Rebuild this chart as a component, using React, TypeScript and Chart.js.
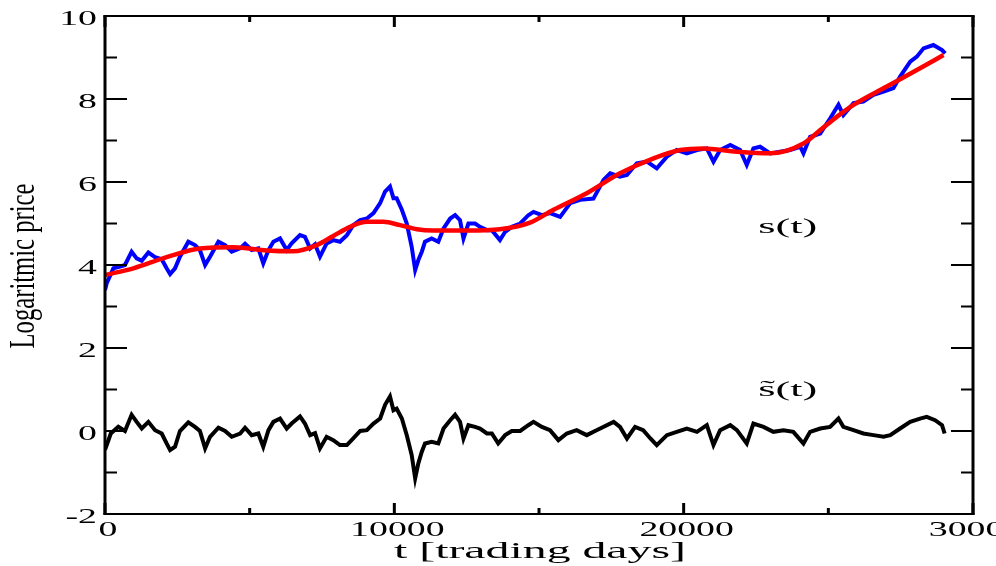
import React, { useEffect, useRef } from "react";
import { Chart, registerables } from "chart.js";

Chart.register(...registerables);

// ---- data ----
const BLUE_T = [0, 60, 290, 520, 690, 920, 1095, 1270, 1500, 1730, 1960, 2130, 2250, 2420, 2590, 2880, 3110, 3280, 3460, 3630, 3920, 4150, 4380, 4670, 4840, 5070, 5300, 5470, 5650, 5820, 6050, 6280, 6450, 6740, 6910, 7090, 7260, 7430, 7660, 7890, 8120, 8360, 8580, 8820, 9050, 9280, 9510, 9680, 9850, 9970, 10080, 10260, 10430, 10600, 10720, 10830, 10950, 11060, 11290, 11520, 11700, 11930, 12100, 12270, 12390, 12560, 12790, 12960, 13200, 13370, 13650, 13830, 14060, 14350, 14630, 14810, 15100, 15380, 15730, 16080, 16420, 16880, 17230, 17460, 17800, 18040, 18380, 18730, 19070, 19420, 19760, 20110, 20460, 20800, 21030, 21260, 21610, 21950, 22180, 22410, 22640, 22990, 23330, 23680, 24030, 24140, 24370, 24720, 25060, 25350, 25520, 25870, 26210, 26560, 26910, 27250, 27480, 27830, 28060, 28290, 28630, 28930, 29040];
const BLUE_V = [3.40, 3.56, 3.92, 3.96, 4.00, 4.32, 4.16, 4.10, 4.30, 4.19, 4.14, 3.92, 3.78, 3.92, 4.20, 4.56, 4.48, 4.36, 4.00, 4.20, 4.56, 4.48, 4.32, 4.40, 4.51, 4.36, 4.40, 4.04, 4.36, 4.56, 4.64, 4.36, 4.52, 4.72, 4.68, 4.40, 4.50, 4.20, 4.52, 4.60, 4.56, 4.72, 4.96, 5.08, 5.12, 5.25, 5.49, 5.77, 5.89, 5.61, 5.61, 5.33, 5.00, 4.44, 3.88, 4.12, 4.32, 4.56, 4.64, 4.56, 4.88, 5.12, 5.20, 5.08, 4.64, 5.00, 5.00, 4.92, 4.84, 4.84, 4.60, 4.80, 4.92, 5.00, 5.20, 5.28, 5.20, 5.25, 5.16, 5.49, 5.57, 5.60, 6.05, 6.21, 6.13, 6.17, 6.45, 6.49, 6.33, 6.61, 6.77, 6.69, 6.77, 6.81, 6.49, 6.77, 6.89, 6.77, 6.41, 6.81, 6.85, 6.69, 6.73, 6.77, 6.85, 6.69, 7.09, 7.17, 7.53, 7.86, 7.61, 7.90, 7.94, 8.10, 8.18, 8.26, 8.54, 8.90, 9.02, 9.22, 9.30, 9.18, 9.10];

const RED_T = [0, 980, 2130, 3280, 4440, 5590, 6510, 7320, 7890, 8470, 9050, 9620, 10200, 10780, 11350, 12500, 13650, 14690, 15500, 16650, 17800, 18960, 19880, 20680, 21840, 22990, 24140, 24720, 25290, 25870, 27020, 28170, 28980];
const RED_V = [3.76, 3.92, 4.19, 4.40, 4.43, 4.35, 4.33, 4.48, 4.70, 4.92, 5.04, 5.04, 4.96, 4.86, 4.83, 4.83, 4.86, 5.02, 5.33, 5.73, 6.21, 6.57, 6.77, 6.81, 6.73, 6.69, 6.93, 7.25, 7.57, 7.86, 8.30, 8.74, 9.06];

const BLACK_T = [0, 60, 200, 460, 690, 920, 1095, 1270, 1500, 1730, 1960, 2130, 2250, 2420, 2590, 2880, 3110, 3280, 3460, 3630, 3920, 4150, 4380, 4670, 4840, 5070, 5300, 5470, 5650, 5820, 6050, 6280, 6450, 6740, 6910, 7090, 7260, 7430, 7660, 7890, 8120, 8360, 8580, 8820, 9050, 9280, 9510, 9680, 9850, 9970, 10080, 10260, 10430, 10600, 10720, 10830, 10950, 11060, 11290, 11520, 11700, 11930, 12100, 12270, 12390, 12560, 12790, 12960, 13200, 13370, 13590, 13830, 14060, 14350, 14630, 14810, 15100, 15380, 15670, 15960, 16300, 16650, 16990, 17580, 17800, 18040, 18320, 18600, 18850, 19070, 19420, 19760, 20110, 20460, 20800, 21030, 21260, 21610, 21840, 22180, 22410, 22760, 23100, 23450, 23790, 24140, 24370, 24720, 25060, 25350, 25520, 25870, 26210, 26560, 26910, 27140, 27480, 27830, 28170, 28400, 28690, 28930, 29020];
const BLACK_V = [-0.45, -0.34, -0.06, 0.10, 0.00, 0.39, 0.22, 0.06, 0.22, 0.02, -0.06, -0.30, -0.46, -0.38, 0.00, 0.21, 0.10, 0.00, -0.42, -0.14, 0.08, 0.00, -0.14, -0.06, 0.08, -0.10, -0.06, -0.38, 0.02, 0.22, 0.30, 0.06, 0.18, 0.35, 0.18, -0.10, -0.05, -0.42, -0.14, -0.22, -0.34, -0.34, -0.18, 0.00, 0.02, 0.18, 0.30, 0.63, 0.83, 0.50, 0.54, 0.30, -0.10, -0.58, -1.14, -0.78, -0.50, -0.30, -0.26, -0.30, 0.06, 0.26, 0.39, 0.22, -0.18, 0.14, 0.10, 0.06, -0.06, -0.06, -0.30, -0.10, 0.00, 0.00, 0.14, 0.22, 0.10, 0.02, -0.22, -0.06, 0.02, -0.10, 0.02, 0.22, 0.10, -0.18, 0.10, 0.02, -0.18, -0.34, -0.10, -0.02, 0.06, -0.02, 0.14, -0.34, 0.02, 0.14, 0.02, -0.30, 0.18, 0.10, -0.02, 0.02, -0.02, -0.30, -0.02, 0.06, 0.10, 0.30, 0.10, 0.02, -0.06, -0.10, -0.14, -0.10, 0.06, 0.22, 0.30, 0.34, 0.26, 0.14, -0.06];

const X_MAJOR = [0, 10000, 20000, 30000];
const X_MINOR = [5000, 15000, 25000];
const Y_MAJOR = [-2, 0, 2, 4, 6, 8, 10];
const Y_MINOR = [-1, 1, 3, 5, 7, 9];
const X_LABELS = ["0", "10000", "20000", "30000"];
const Y_LABELS = ["-2", "0", "2", "4", "6", "8", "10"];
const X_TITLE = "t [trading days]";
const Y_TITLE = "Logaritmic price";
const ANNOT_TEXT = ["s(t)", "s\u0303(t)"];
const ANNOT_X = [23600, 23600];
const ANNOT_Y = [4.9, 0.99];

const FONT = '"Liberation Serif", "Times New Roman", "DejaVu Serif", serif';

const framePlugin = {
  id: "xmgraceFrame",
  afterDatasetsDraw(chart: any) {
    const { ctx, chartArea: a, scales } = chart;
    const xs = scales.x;
    const ys = scales.y;
    ctx.save();
    ctx.strokeStyle = "#000";
    ctx.fillStyle = "#000";
    ctx.lineCap = "butt";

    // y ticks (left and right, pointing inwards)
    ctx.lineWidth = 2;
    const yTick = (v: number, len: number) => {
      const py = ys.getPixelForValue(v);
      ctx.beginPath();
      ctx.moveTo(a.left, py);
      ctx.lineTo(a.left + len, py);
      ctx.moveTo(a.right, py);
      ctx.lineTo(a.right - len, py);
      ctx.stroke();
    };
    Y_MAJOR.forEach((v) => yTick(v, 22));
    Y_MINOR.forEach((v) => yTick(v, 12));

    // x ticks (bottom and top, pointing inwards)
    ctx.lineWidth = 3;
    const xTick = (v: number, len: number) => {
      const px = xs.getPixelForValue(v);
      ctx.beginPath();
      ctx.moveTo(px, a.bottom);
      ctx.lineTo(px, a.bottom - len);
      ctx.moveTo(px, a.top);
      ctx.lineTo(px, a.top + len);
      ctx.stroke();
    };
    X_MAJOR.forEach((v) => xTick(v, 11));
    X_MINOR.forEach((v) => xTick(v, 6));

    // frame
    ctx.lineWidth = 2;
    ctx.beginPath();
    ctx.moveTo(a.left - 1.5, a.top);
    ctx.lineTo(a.right + 1.5, a.top);
    ctx.moveTo(a.left - 1.5, a.bottom);
    ctx.lineTo(a.right + 1.5, a.bottom);
    ctx.stroke();
    ctx.lineWidth = 3;
    ctx.beginPath();
    ctx.moveTo(a.left, a.top - 1);
    ctx.lineTo(a.left, a.bottom + 1);
    ctx.moveTo(a.right, a.top - 1);
    ctx.lineTo(a.right, a.bottom + 1);
    ctx.stroke();

    const text = (
      s: string,
      x: number,
      y: number,
      size: number,
      sx: number,
      align: CanvasTextAlign,
      baseline: CanvasTextBaseline
    ) => {
      ctx.save();
      ctx.font = `${size}px ${FONT}`;
      ctx.translate(x, y);
      ctx.scale(sx, 1);
      ctx.textAlign = align;
      ctx.textBaseline = baseline;
      ctx.fillText(s, 0, 0);
      ctx.restore();
    };
    const fitScale = (s: string, size: number, target: number) => {
      ctx.save();
      ctx.font = `${size}px ${FONT}`;
      const w = ctx.measureText(s).width;
      ctx.restore();
      return target / w;
    };

    // tick labels
    Y_MAJOR.forEach((v, i) => {
      text(Y_LABELS[i], a.left - 8, ys.getPixelForValue(v) + 9, 21, 1.8, "right", "alphabetic");
    });
    X_MAJOR.forEach((v, i) => {
      text(X_LABELS[i], xs.getPixelForValue(v) + 3, a.bottom + 22, 21, 1.8, "center", "alphabetic");
    });

    // axis titles
    const cx = (a.left + a.right) / 2;
    text(X_TITLE, cx + 1, a.bottom + 44, 23, fitScale(X_TITLE, 23, 292), "center", "alphabetic");

    ctx.save();
    ctx.font = `24px ${FONT}`;
    const wy = ctx.measureText(Y_TITLE).width;
    ctx.translate(25, (a.top + a.bottom) / 2 + 1);
    ctx.rotate(-Math.PI / 2);
    ctx.scale(165 / wy, 1.45);
    ctx.textAlign = "center";
    ctx.textBaseline = "middle";
    ctx.fillText(Y_TITLE, 0, 0);
    ctx.restore();

    // annotations
    ANNOT_TEXT.forEach((s, i) => {
      const sc = fitScale("s(t)", 22, 59);
      text(s, xs.getPixelForValue(ANNOT_X[i]), ys.getPixelForValue(ANNOT_Y[i]), 22, sc, "center", "middle");
    });

    ctx.restore();
  },
};

export default function App() {
  const ref = useRef<HTMLCanvasElement | null>(null);

  useEffect(() => {
    if (!ref.current) return;
    const mk = (T: number[], V: number[]) => T.map((t, i) => ({ x: t, y: V[i] }));
    const chart = new Chart(ref.current, {
      type: "line",
      data: {
        datasets: [
          {
            label: "trend",
            data: mk(RED_T, RED_V),
            borderColor: "#ff0000",
            borderWidth: 4.5,
            pointRadius: 0,
            cubicInterpolationMode: "monotone",
            order: 0,
          },
          {
            label: "s(t)",
            data: mk(BLUE_T, BLUE_V),
            borderColor: "#0000ff",
            borderWidth: 4,
            pointRadius: 0,
            tension: 0,
            order: 1,
          },
          {
            label: "s~(t)",
            data: mk(BLACK_T, BLACK_V),
            borderColor: "#000000",
            borderWidth: 4,
            pointRadius: 0,
            tension: 0,
            order: 2,
          },
        ],
      } as any,
      options: {
        animation: false,
        responsive: false,
        devicePixelRatio: 1,
        layout: { padding: { left: 105, top: 16, right: 23, bottom: 52 } },
        plugins: { legend: { display: false }, tooltip: { enabled: false } },
        scales: {
          x: { type: "linear", min: 0, max: 30000, display: false },
          y: { type: "linear", min: -2, max: 10, display: false },
        },
      } as any,
      plugins: [framePlugin],
    });
    return () => chart.destroy();
  }, []);

  return (
    <div style={{ position: "fixed", left: 0, top: 0, width: 996, height: 566, background: "#fff" }}>
      <canvas ref={ref} width={996} height={566} style={{ display: "block", width: 996, height: 566 }} />
    </div>
  );
}
